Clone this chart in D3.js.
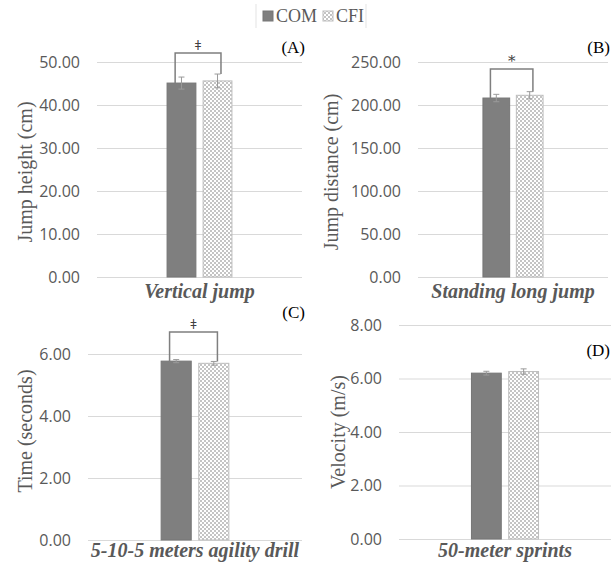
<!DOCTYPE html>
<html>
<head>
<meta charset="utf-8">
<script src="https://cdn.jsdelivr.net/npm/d3@7"></script>
<style>
  body { margin: 0; background: #fff; }
  svg { display: block; }
  .serif { font-family: "Liberation Serif", "DejaVu Serif", serif; }
  .sans  { font-family: "Open Sans", "DejaVu Sans", sans-serif; }
</style>
</head>
<body>
<svg id="chart" width="611" height="565"></svg>
<script>
// Daten
const categories = ["Vertical jump", "Standing long jump", "5-10-5 meters agility drill", "50-meter sprints"];
const series     = ["COM", "CFI"];
const comMeans   = [45.1, 208.1, 5.77, 6.20];
const cfiMeans   = [45.6, 211.3, 5.70, 6.26];
const comErr     = [1.4, 4.3, 0.05, 0.07];
const cfiErr     = [1.6, 4.2, 0.06, 0.10];
const yTitles    = ["Jump height (cm)", "Jump distance (cm)", "Time (seconds)", "Velocity (m/s)"];
const yMax       = [50, 250, 6, 8];
const yStep      = [10, 50, 2, 2];
const letters    = ["(A)", "(B)", "(C)", "(D)"];
const sigMarks   = ["ǂ", "*", "ǂ", null];

// Layout je Panel (Pixel)
const panels = [
  { left: 97,  right: 302, top: 62,  bottom: 277, titleX: 25,  titleY: 172, catY: 298, letterX: 305, letterY: 53,  bracketY: 53 },
  { left: 418, right: 608, top: 62,  bottom: 277, titleX: 331, titleY: 172, catY: 298, letterX: 610, letterY: 53,  bracketY: 69 },
  { left: 88,  right: 302, top: 354, bottom: 540, titleX: 25,  titleY: 431, catY: 557, letterX: 305, letterY: 318, bracketY: 332 },
  { left: 399, right: 611, top: 325, bottom: 539, titleX: 338, titleY: 432, catY: 557, letterX: 610, letterY: 356, bracketY: null }
];

const grey = "#595959";
const svg = d3.select("#chart");

const defs = svg.append("defs");
const pat = defs.append("pattern")
  .attr("id", "checker")
  .attr("width", 4).attr("height", 4)
  .attr("patternUnits", "userSpaceOnUse");
pat.append("rect").attr("width", 4).attr("height", 4).attr("fill", "#fff");
pat.append("rect").attr("width", 2).attr("height", 2).attr("fill", "#c4c4c4");
pat.append("rect").attr("x", 2).attr("y", 2).attr("width", 2).attr("height", 2).attr("fill", "#c4c4c4");

const fills   = { COM: "#7f7f7f", CFI: "url(#checker)" };
const strokes = { COM: "#767676", CFI: "#bdbdbd" };

categories.forEach((cat, i) => {
  const p = panels[i];
  const g = svg.append("g");

  const y = d3.scaleLinear()
    .domain([0, yMax[i]])
    .range([p.bottom, p.top]);

  const x0 = d3.scaleBand()
    .domain([cat])
    .range([p.left, p.right])
    .paddingOuter(1.08);

  const x1 = d3.scaleBand()
    .domain(series)
    .range([0, x0.bandwidth()])
    .paddingInner(0.2);

  // Gitterlinien + Achsenbeschriftung
  const ax = g.append("g")
    .attr("transform", `translate(${p.left},0)`)
    .call(d3.axisLeft(y)
      .tickValues(d3.range(0, yMax[i] + yStep[i] / 2, yStep[i]))
      .tickSize(-(p.right - p.left))
      .tickPadding(17)
      .tickFormat(d3.format(".2f")));
  ax.attr("font-family", null).attr("font-size", null);
  ax.select(".domain").remove();
  ax.selectAll("line").attr("stroke", "#d9d9d9");
  ax.selectAll("text")
    .attr("class", "sans")
    .attr("fill", grey)
    .style("font-size", "16px");

  // Y-Achsentitel
  g.append("text")
    .attr("class", "serif")
    .attr("transform", `translate(${p.titleX},${p.titleY}) rotate(-90)`)
    .attr("text-anchor", "middle")
    .attr("dy", "0.35em")
    .attr("fill", grey)
    .style("font-size", "20px")
    .text(yTitles[i]);

  // Kategorie
  g.append("text")
    .attr("class", "serif")
    .attr("x", x0(cat) + x0.bandwidth() / 2)
    .attr("y", p.catY)
    .attr("text-anchor", "middle")
    .attr("fill", grey)
    .style("font-size", "20px")
    .style("font-weight", "bold")
    .style("font-style", "italic")
    .text(cat);

  const rows = [
    { s: "COM", v: comMeans[i], e: comErr[i] },
    { s: "CFI", v: cfiMeans[i], e: cfiErr[i] }
  ];

  g.selectAll("rect.bar")
    .data(rows)
    .join("rect")
    .attr("class", "bar")
    .attr("x", d => x0(cat) + x1(d.s))
    .attr("y", d => y(d.v))
    .attr("width", x1.bandwidth())
    .attr("height", d => p.bottom - y(d.v))
    .attr("fill", d => fills[d.s])
    .attr("stroke", d => strokes[d.s])
    .attr("stroke-width", 1);

  // Fehlerbalken
  const eb = g.selectAll("g.err")
    .data(rows)
    .join("g")
    .attr("class", "err")
    .attr("stroke", "#9a9a9a")
    .attr("stroke-width", 1);
  const cx = d => x0(cat) + x1(d.s) + x1.bandwidth() / 2;
  eb.append("line")
    .attr("x1", cx).attr("x2", cx)
    .attr("y1", d => y(d.v + d.e)).attr("y2", d => y(d.v - d.e));
  eb.append("line")
    .attr("x1", d => cx(d) - 3).attr("x2", d => cx(d) + 3)
    .attr("y1", d => y(d.v + d.e)).attr("y2", d => y(d.v + d.e));
  eb.append("line")
    .attr("x1", d => cx(d) - 3).attr("x2", d => cx(d) + 3)
    .attr("y1", d => y(d.v - d.e)).attr("y2", d => y(d.v - d.e));

  // Signifikanzklammer
  if (sigMarks[i]) {
    const lx = x0(cat) + x1("COM") + x1.bandwidth() * 0.28;
    const rx = x0(cat) + x1("CFI") + x1.bandwidth() * 0.62;
    const by = p.bracketY;
    g.append("path")
      .attr("d", `M${lx},${y(rows[0].v)}V${by}H${rx}V${y(rows[1].v + rows[1].e)}`)
      .attr("fill", "none")
      .attr("stroke", "#7f7f7f")
      .attr("stroke-width", 1.5);
    g.append("text")
      .attr("x", (lx + rx) / 2)
      .attr("y", by - 3)
      .attr("text-anchor", "middle")
      .attr("fill", "#404040")
      .style("font-family", "'DejaVu Serif', serif")
      .style("font-size", sigMarks[i] === "*" ? "15px" : "13px")
      .text(sigMarks[i]);
  }

  // Panelbuchstabe
  g.append("text")
    .attr("class", "serif")
    .attr("x", p.letterX)
    .attr("y", p.letterY)
    .attr("text-anchor", "end")
    .attr("fill", "#000")
    .style("font-size", "17px")
    .text(letters[i]);
});

// Legende
const legend = svg.append("g");
legend.append("line").attr("x1", 256).attr("x2", 256).attr("y1", 4).attr("y2", 28).attr("stroke", "#e3e3e3");
legend.append("line").attr("x1", 366).attr("x2", 366).attr("y1", 4).attr("y2", 28).attr("stroke", "#e3e3e3");
const lx = [263, 323];
series.forEach((s, k) => {
  legend.append("rect")
    .attr("x", lx[k]).attr("y", 11)
    .attr("width", 10).attr("height", 10)
    .attr("fill", fills[s])
    .attr("stroke", strokes[s]);
  legend.append("text")
    .attr("class", "serif")
    .attr("x", lx[k] + 13).attr("y", 22)
    .attr("fill", grey)
    .style("font-size", "18px")
    .text(s);
});
</script>
</body>
</html>
